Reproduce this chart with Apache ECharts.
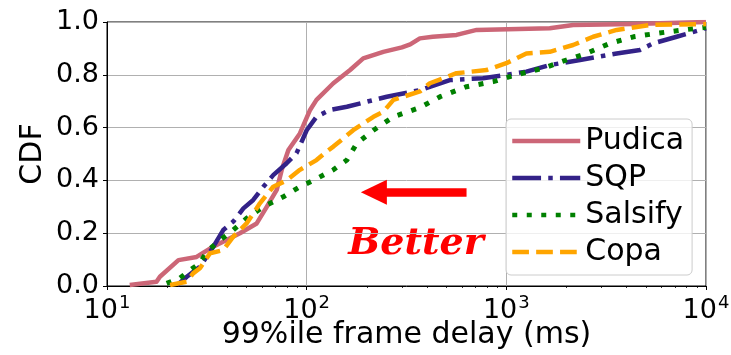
<!DOCTYPE html>
<html>
<head>
<meta charset="utf-8">
<script src="https://cdn.jsdelivr.net/npm/echarts@6/dist/echarts.min.js"></script>
<style>
  html, body { margin: 0; padding: 0; background: #fff; }
  #chart { width: 731px; height: 355px; }
</style>
</head>
<body>
<div id="chart"></div>
<script>
// 99th-percentile frame delay (ms) vs. cumulative fraction, per scheme
const pudicaDelay = [13.0, 17.7, 18.4, 22.8, 28.1, 34.0, 39.7, 46.3, 56.2, 63.1, 70.8, 75, 81, 92.5, 104, 112, 136, 165, 192, 242, 300, 330, 369, 428, 563, 710, 1650, 2160, 4300, 10000];
const pudicaCdf   = [0.004, 0.016, 0.035, 0.098, 0.11, 0.149, 0.174, 0.2, 0.237, 0.30, 0.364, 0.44, 0.515, 0.578, 0.667, 0.705, 0.768, 0.818, 0.862, 0.887, 0.904, 0.915, 0.938, 0.944, 0.951, 0.97, 0.976, 0.989, 0.992, 1.0];

const sqpDelay = [22.5, 25.1, 29.2, 34.1, 38.2, 42.9, 48.2, 54, 60.7, 68, 79.4, 89, 100, 112, 131, 159, 200, 252, 369, 521, 764, 1000, 1260, 1650, 2340, 3570, 4670, 5440, 7130, 10000];
const sqpCdf   = [0.004, 0.035, 0.073, 0.149, 0.212, 0.244, 0.294, 0.326, 0.376, 0.42, 0.465, 0.503, 0.59, 0.641, 0.667, 0.679, 0.698, 0.717, 0.742, 0.78, 0.787, 0.80, 0.812, 0.837, 0.856, 0.881, 0.894, 0.919, 0.944, 0.976];

const salsifyDelay = [19.9, 23.2, 26, 29.2, 31.6, 36.8, 42.9, 50, 60.7, 76.4, 92.5, 108, 136, 159, 178, 216, 272, 369, 466, 632, 859, 1120, 1530, 2000, 2520, 3300, 4330, 5660, 7690, 10000];
const salsifyCdf   = [0.01, 0.03, 0.06, 0.086, 0.13, 0.174, 0.212, 0.256, 0.30, 0.338, 0.376, 0.40, 0.44, 0.477, 0.54, 0.59, 0.641, 0.676, 0.717, 0.755, 0.774, 0.80, 0.825, 0.856, 0.881, 0.919, 0.944, 0.957, 0.97, 0.98];

const copaDelay = [20.7, 25.1, 27, 29.2, 32.8, 38.2, 42.9, 50, 58.3, 68, 79.4, 92.5, 112, 126, 136, 171, 216, 242, 272, 369, 414, 563, 796, 1000, 1260, 1650, 2160, 2720, 3570, 5240, 10000];
const copaCdf   = [0.004, 0.016, 0.048, 0.067, 0.124, 0.136, 0.187, 0.237, 0.313, 0.376, 0.40, 0.44, 0.477, 0.509, 0.528, 0.59, 0.641, 0.66, 0.705, 0.737, 0.768, 0.806, 0.818, 0.844, 0.881, 0.887, 0.913, 0.944, 0.97, 0.989, 0.992];

const yTicks = [0, 0.2, 0.4, 0.6, 0.8, 1.0];
const minorXTicks = [20, 30, 40, 50, 60, 70, 80, 90, 200, 300, 400, 500, 600, 700, 800, 900, 2000, 3000, 4000, 5000, 6000, 7000, 8000, 9000];

// "Better" arrow: from slower delay towards faster, at a fixed CDF level
const arrowFrom = [632, 0.355];
const arrowTo = [217, 0.355];

const zip = (xs, ys) => xs.map((x, i) => [x, ys[i]]);

const FONT = '"DejaVu Sans", sans-serif';
const chart = echarts.init(document.getElementById('chart'), null, { renderer: 'canvas' });

function lineSeries(name, xs, ys, color, type, width) {
  return {
    name: name,
    type: 'line',
    data: zip(xs, ys),
    symbol: 'none',
    showSymbol: false,
    smooth: false,
    lineStyle: { color: color, width: width, type: type, cap: 'butt', join: 'round' },
    itemStyle: { color: color },
    emphasis: { disabled: true },
    animation: false
  };
}

const series = [
  lineSeries('Pudica', pudicaDelay, pudicaCdf, '#CC6677', 'solid', 4.5),
  lineSeries('SQP', sqpDelay, sqpCdf, '#332288', [28.8, 7.2, 4.5, 7.2], 4.5),
  lineSeries('Salsify', salsifyDelay, salsifyCdf, '#008000', [5, 9.5], 5),
  lineSeries('Copa', copaDelay, copaCdf, '#FFA500', [16.7, 7.2], 4.5)
];

series[0].markLine = {
  silent: true,
  animation: false,
  symbol: ['none', 'triangle'],
  symbolSize: [25, 26],
  label: { show: false },
  lineStyle: { color: '#ff0000', width: 8.5, type: 'solid' },
  data: [[{ coord: arrowFrom }, { coord: arrowTo }]]
};

const option = {
  animation: false,
  backgroundColor: '#ffffff',
  grid: {
    left: 107, right: 25, top: 22, bottom: 69,
    outerBoundsMode: 'none',
    containLabel: false,
    show: true, borderColor: '#000', borderWidth: 1, backgroundColor: 'transparent'
  },
  xAxis: [
    {
      type: 'log', logBase: 10, min: 10, max: 10000,
      position: 'bottom',
      name: '99%ile frame delay (ms)',
      nameLocation: 'middle',
      nameGap: 34,
      nameMoveOverlap: false,
      nameTextStyle: { fontFamily: FONT, fontSize: 30, color: '#000' },
      axisLine: { show: true, lineStyle: { color: '#000', width: 1 } },
      axisTick: { show: true, inside: false, length: 4, lineStyle: { color: '#000', width: 1 } },
      splitLine: { show: true, lineStyle: { color: '#b0b0b0', width: 1 } },
      axisLabel: {
        margin: 8,
        formatter: function (v) {
          const e = Math.round(Math.log10(v));
          return '{b|10}{s|' + e + '}';
        },
        rich: {
          b: { fontFamily: FONT, fontSize: 27, color: '#000', lineHeight: 30, verticalAlign: 'bottom' },
          s: { fontFamily: FONT, fontSize: 18, color: '#000', lineHeight: 30, verticalAlign: 'top', padding: [0, 0, 0, 1] }
        }
      }
    },
    {
      type: 'log', logBase: 10, min: 10, max: 10000,
      position: 'bottom',
      axisLine: { show: false },
      axisLabel: { show: false },
      splitLine: { show: false },
      axisTick: { show: true, inside: false, length: 2, customValues: minorXTicks, lineStyle: { color: '#000', width: 0.8 } }
    }
  ],
  yAxis: {
    type: 'value', min: 0, max: 1, interval: 0.2,
    name: 'CDF',
    nameLocation: 'middle',
    nameGap: 59,
    nameMoveOverlap: false,
    nameTextStyle: { fontFamily: FONT, fontSize: 30, color: '#000' },
    axisLine: { show: true, lineStyle: { color: '#000', width: 1 } },
    axisTick: { show: true, inside: false, length: 4, customValues: yTicks, lineStyle: { color: '#000', width: 1 } },
    splitLine: { show: true, lineStyle: { color: '#b0b0b0', width: 1 } },
    axisLabel: {
      margin: 8,
      fontFamily: FONT, fontSize: 27, color: '#000',
      customValues: yTicks,
      formatter: function (v) { return v.toFixed(1); }
    }
  },
  legend: {
    orient: 'vertical',
    left: 506, top: 119,
    padding: [7, 8, 8, 4],
    itemGap: 7,
    itemWidth: 68,
    itemHeight: 14,
    backgroundColor: 'rgba(255,255,255,0.8)',
    borderColor: '#cccccc',
    borderWidth: 1,
    borderRadius: 5,
    selectedMode: false,
    lineStyle: { width: 4.5 },
    itemStyle: { opacity: 0 },
    textStyle: { fontFamily: FONT, fontSize: 30, color: '#000', lineHeight: 30 },
    data: ['Pudica', 'SQP', 'Salsify', 'Copa']
  },
  graphic: [
    {
      type: 'text',
      x: 416, y: 244,
      silent: true,
      style: {
        text: 'Better',
        fill: '#ff0000',
        font: 'italic bold 38px "DejaVu Serif", serif',
        textAlign: 'center',
        textVerticalAlign: 'middle'
      }
    }
  ],
  series: series
};

chart.setOption(option);
</script>
</body>
</html>
